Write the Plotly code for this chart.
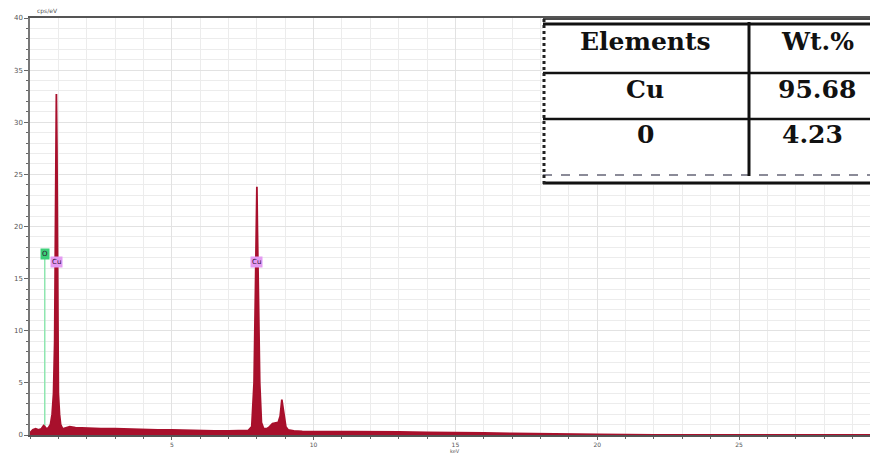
import plotly.graph_objects as go

# ---------------- data ----------------
energy_kev = [0.00, 0.10, 0.20, 0.30, 0.40, 0.48, 0.52, 0.58, 0.65, 0.72,
              0.78, 0.83, 0.87, 0.90, 0.91, 0.93, 0.95, 0.97, 1.00, 1.04,
              1.08, 1.15, 1.25, 1.40, 1.60, 2.00, 2.50, 3.00, 3.50, 4.00,
              4.50, 5.00, 5.50, 6.00, 6.50, 7.00, 7.40, 7.70, 7.82, 7.90,
              7.95, 7.98, 8.00, 8.02, 8.05, 8.10, 8.16, 8.24, 8.35, 8.45,
              8.55, 8.65, 8.75, 8.82, 8.86, 8.88, 8.90, 8.95, 9.02, 9.10,
              9.30, 9.60, 10.0, 11.0, 12.0, 13.0, 14.0, 15.0, 16.0, 17.0,
              18.0, 19.0, 20.0, 22.0, 25.0, 29.9]
counts_cps = [0.2, 0.5, 0.6, 0.5, 0.6, 0.9, 0.8, 0.6, 0.7, 1.0,
              2.0, 4.0, 9.0, 23.8, 27.4, 32.7, 27.4, 15.0, 4.0, 2.0,
              1.0, 0.6, 0.7, 0.8, 0.7, 0.65, 0.6, 0.6, 0.55, 0.55,
              0.5, 0.5, 0.45, 0.45, 0.4, 0.4, 0.4, 0.45, 0.8, 5.0,
              14.0, 19.5, 23.8, 19.5, 14.0, 5.0, 1.2, 0.6, 0.6, 0.8,
              1.1, 1.15, 1.2, 1.8, 2.8, 3.4, 3.0, 2.0, 0.8, 0.5,
              0.4, 0.35, 0.35, 0.3, 0.3, 0.3, 0.25, 0.25, 0.2, 0.15,
              0.1, 0.05, 0.05, 0.02, 0.0, 0.0]

# element identification markers
marker_labels = ["O", "Cu", "Cu"]
marker_energy = [0.52, 0.93, 8.00]
marker_height = [17.4, 16.6, 16.6]
marker_bg = ["#3ccf78", "#e49af2", "#e49af2"]
marker_line = ["#8fe6b0", "#d890e0", "#d890e0"]

# composition table
table_header = ["Elements", "Wt.%"]
table_elements = ["Cu", "0"]
table_wt = ["95.68", "4.23"]

x_ticks = [5, 10, 15, 20, 25, 30]
y_ticks = [0, 5, 10, 15, 20, 25, 30, 35, 40]

# page body has an 8px margin: figure sits at (8, 8) in the window
OFF = 8

# ---------------- figure ----------------
fig = go.Figure()

for lab, e, h, lc in zip(marker_labels, marker_energy, marker_height, marker_line):
    fig.add_trace(go.Scatter(x=[e, e], y=[0, h], mode="lines",
                             line=dict(color=lc, width=1.5),
                             hoverinfo="skip", showlegend=False))

fig.add_trace(go.Scatter(
    x=energy_kev, y=counts_cps, mode="lines", fill="tozeroy",
    line=dict(color="#a8102c", width=1.8), fillcolor="#a8102c",
    showlegend=False))

for lab, e, h, bg in zip(marker_labels, marker_energy, marker_height, marker_bg):
    fig.add_annotation(x=e, y=h, xref="x", yref="y", text=lab, showarrow=False,
                       font=dict(size=7, color="#301030", family="DejaVu Sans"),
                       bgcolor=bg, borderpad=1,
                       xanchor="center", yanchor="middle")

# axis titles
fig.add_annotation(x=0, y=1, xref="paper", yref="paper", text="cps/eV",
                   showarrow=False, xanchor="left", yanchor="bottom",
                   xshift=5, yshift=1, font=dict(size=6, color="#555"))
fig.add_annotation(x=15, y=0, xref="x", yref="paper", text="keV",
                   showarrow=False, xanchor="center", yanchor="top",
                   yshift=-11, font=dict(size=5, color="#555"))

# ---------------- table (layout decoration) ----------------
def px_x(p):
    return (p - 30) / 848.0

def px_y(p):
    return (435 - p) / 417.0

shapes = []
shapes.append(dict(type="rect", xref="paper", yref="paper",
                   x0=px_x(543), x1=1.02, y0=px_y(184), y1=px_y(18),
                   fillcolor="white", line=dict(width=0), layer="above"))
for yy, w in [(19, 1.5), (24, 3), (73, 2.5), (119, 2.5), (183, 3)]:
    shapes.append(dict(type="line", xref="paper", yref="paper",
                       x0=px_x(543), x1=1.02, y0=px_y(yy), y1=px_y(yy),
                       line=dict(color="#111", width=w), layer="above"))
shapes.append(dict(type="line", xref="paper", yref="paper",
                   x0=px_x(543), x1=1.02, y0=px_y(175), y1=px_y(175),
                   line=dict(color="#667", width=1.5, dash="dash"), layer="above"))
shapes.append(dict(type="line", xref="paper", yref="paper",
                   x0=px_x(544), x1=px_x(544), y0=px_y(184), y1=px_y(18),
                   line=dict(color="#222", width=3, dash="dot"), layer="above"))
shapes.append(dict(type="line", xref="paper", yref="paper",
                   x0=px_x(749), x1=px_x(749), y0=px_y(176), y1=px_y(22),
                   line=dict(color="#111", width=3), layer="above"))
fig.update_layout(shapes=shapes)

tfont = dict(family="DejaVu Serif", size=25, color="#111", weight="bold")
row_y = [41, 89, 134]
col_x = [645, 817]
fig.add_annotation(x=px_x(col_x[0]), y=px_y(row_y[0]), xref="paper", yref="paper",
                   text=table_header[0], showarrow=False, font=tfont,
                   xanchor="center", yanchor="middle")
fig.add_annotation(x=px_x(col_x[1]), y=px_y(row_y[0]), xref="paper", yref="paper",
                   text=table_header[1], showarrow=False, font=tfont,
                   xanchor="center", yanchor="middle")
for i, (el, wt) in enumerate(zip(table_elements, table_wt)):
    fig.add_annotation(x=px_x(col_x[0]), y=px_y(row_y[i + 1]), xref="paper", yref="paper",
                       text=el, showarrow=False, font=tfont,
                       xanchor="center", yanchor="middle")
    fig.add_annotation(x=px_x(col_x[1] - 5 * i), y=px_y(row_y[i + 1]), xref="paper", yref="paper",
                       text=wt, showarrow=False, font=tfont,
                       xanchor="center", yanchor="middle")

fig.update_layout(
    width=878 - OFF, height=453 - OFF,
    margin=dict(l=30 - OFF, r=0, t=18 - OFF, b=18, autoexpand=False),
    paper_bgcolor="white", plot_bgcolor="white",
    font=dict(family="DejaVu Sans", size=7, color="#555"),
    xaxis=dict(range=[0, 29.9], tickvals=x_ticks, ticktext=[str(v) for v in x_ticks],
               showgrid=True, gridcolor="#e2e2e2", gridwidth=1,
               minor=dict(dtick=1, showgrid=True, gridcolor="#ececec",
                          ticks="outside", ticklen=2, tickcolor="#666"),
               ticks="outside", ticklen=3, tickcolor="#666",
               showline=True, linecolor="#555", linewidth=1.5, mirror=True,
               zeroline=False, tickfont=dict(size=6, color="#555")),
    yaxis=dict(range=[0, 40], tickvals=y_ticks, ticktext=[str(v) for v in y_ticks],
               showgrid=True, gridcolor="#e2e2e2", gridwidth=1,
               minor=dict(dtick=1, showgrid=True, gridcolor="#ececec",
                          ticks="outside", ticklen=2, tickcolor="#666"),
               ticks="outside", ticklen=4, tickcolor="#666",
               showline=True, linecolor="#777", linewidth=1.5,
               zeroline=False, tickfont=dict(size=7, color="#555")),
)

fig.write_html("out.html")
